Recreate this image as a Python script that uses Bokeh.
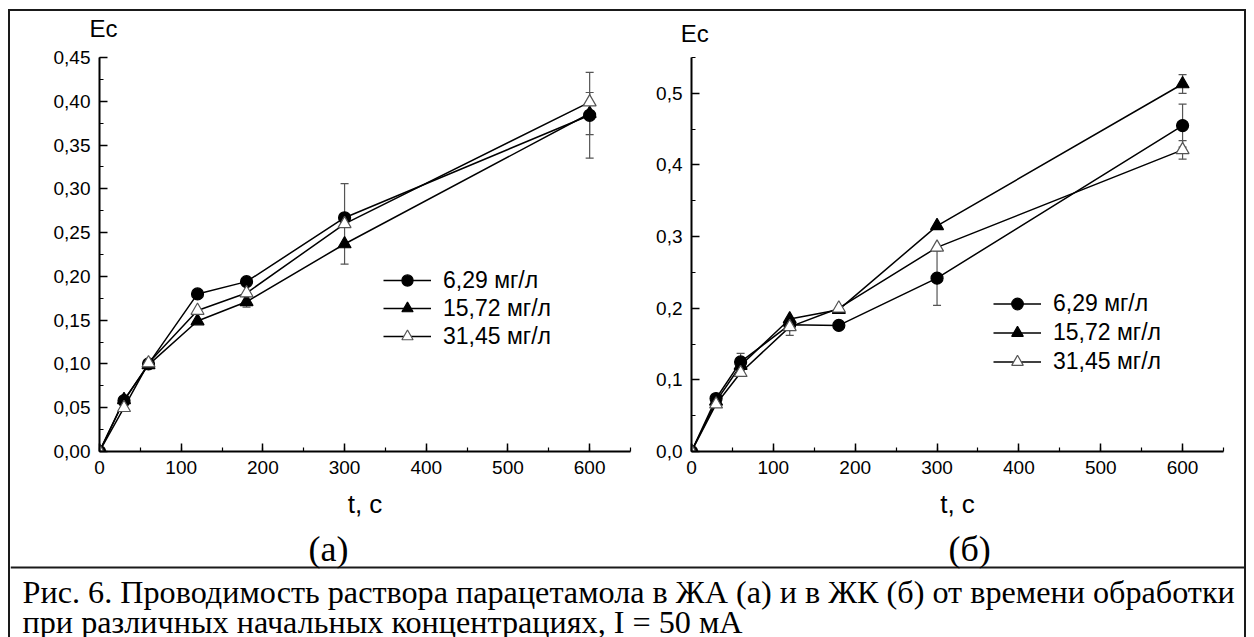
from bokeh.plotting import figure
from bokeh.models import (Range1d, SingleIntervalTicker, CustomJSTickFormatter, Legend,
                          LegendItem, Label, Whisker, ColumnDataSource, TeeHead, Span,
                          LinearAxis, FixedTicker)
from bokeh.layouts import column, row
from bokeh.embed import file_html
from bokeh.resources import INLINE

# ---------------- data ----------------
t = [0, 30, 60, 120, 180, 300, 600]
series_names = ["6,29 мг/л", "15,72 мг/л", "31,45 мг/л"]

# (а) ЖА
a_629 = [0, 0.058, 0.100, 0.180, 0.194, 0.267, 0.384]
a_1572 = [0, 0.059, 0.099, 0.149, 0.171, 0.237, 0.386]
a_3145 = [0, 0.050, 0.101, 0.161, 0.181, 0.260, 0.399]
a_629_err = [0, 0, 0, 0, 0, 0, 0.049]
a_1572_err = [0, 0, 0, 0, 0.006, 0, 0.024]
a_3145_err = [0, 0, 0, 0, 0, 0.046, 0]

# (б) ЖК
b_629 = [0, 0.074, 0.125, 0.177, 0.176, 0.242, 0.455]
b_1572 = [0, 0.070, 0.120, 0.185, 0.198, 0.315, 0.513]
b_3145 = [0, 0.066, 0.110, 0.174, 0.200, 0.285, 0.421]
b_629_err = [0, 0, 0.012, 0, 0, 0.038, 0.030]
b_1572_err = [0, 0, 0, 0, 0, 0, 0.013]
b_3145_err = [0, 0, 0, 0.012, 0, 0, 0.013]

x_max = 650
x_ticks_interval = 100
y_label = "Ec"
x_label = "t, с"
panel_labels = ["(а)", "(б)"]
caption_lines = [
    "Рис. 6. Проводимость раствора парацетамола в ЖА (а) и в ЖК (б) от времени обработки",
    "при различных начальных концентрациях, I = 50 мА",
]

SANS = "Liberation Sans"
SERIF = "Liberation Serif"
BORDER = "2px solid #1a1a1a"

marker_styles = [
    dict(marker="circle", size=12, fill_color="black", line_color="black"),
    dict(marker="triangle", size=13, fill_color="black", line_color="black"),
    dict(marker="triangle", size=13, fill_color="white", line_color="#555555"),
]


def make_chart(series, errs, ymax, yint, decimals, width, height, mb, legend_loc,
               legend_row_h, ec_x, ec_standoff, styles):
    p = figure(width=width, height=height, x_range=Range1d(0, x_max), y_range=Range1d(0, ymax),
               output_backend="svg", toolbar_location=None, title_location=None,
               min_border_left=mb[0], min_border_right=mb[1],
               min_border_top=mb[2], min_border_bottom=mb[3])
    p.styles = styles
    p.grid.visible = False
    p.outline_line_color = None
    p.background_fill_color = "white"
    p.border_fill_color = "white"

    fmt = CustomJSTickFormatter(code=f"return tick.toFixed({decimals}).replace('.', ',');")
    p.yaxis.ticker = SingleIntervalTicker(interval=yint, num_minor_ticks=2)
    p.yaxis.formatter = fmt
    p.xaxis.ticker = SingleIntervalTicker(interval=x_ticks_interval, num_minor_ticks=2)
    for ax in (p.xaxis[0], p.yaxis[0]):
        ax.axis_line_width = 2
        ax.axis_line_color = "black"
        ax.major_tick_in = 8
        ax.major_tick_out = 0
        ax.minor_tick_in = 4
        ax.minor_tick_out = 0
        ax.major_tick_line_width = 1.5
        ax.minor_tick_line_width = 1.2
        ax.major_tick_line_color = "black"
        ax.minor_tick_line_color = "black"
        ax.major_label_text_font = SANS
        ax.major_label_text_font_size = "19px"
        ax.major_label_text_color = "black"
        ax.major_label_standoff = 9
    p.xaxis.axis_label = x_label
    p.xaxis.axis_label_text_font = SANS
    p.xaxis.axis_label_text_font_size = "26px"
    p.xaxis.axis_label_text_font_style = "normal"
    p.xaxis.axis_label_text_color = "black"
    p.xaxis.axis_label_standoff = 12

    # "Ec" caption above the top end of the y axis (an unlined axis above the frame)
    ec_axis = LinearAxis(ticker=FixedTicker(ticks=[ec_x], minor_ticks=[]),
                         formatter=CustomJSTickFormatter(code=f"return '{y_label}';"),
                         axis_line_color=None, major_tick_line_color=None,
                         minor_tick_line_color=None, major_tick_in=0, major_tick_out=0,
                         minor_tick_in=0, minor_tick_out=0,
                         major_label_standoff=ec_standoff, major_label_text_font=SANS,
                         major_label_text_font_size="24px", major_label_text_color="black")
    p.add_layout(ec_axis, "above")

    items = []
    for name, ys, er, ms in zip(series_names, series, errs, marker_styles):
        src = ColumnDataSource(dict(x=t, y=ys))
        lr = p.line("x", "y", source=src, line_color="black", line_width=1.5)
        wx = [xx for xx, e in zip(t, er) if e > 0]
        wl = [yy - e for yy, e in zip(ys, er) if e > 0]
        wu = [yy + e for yy, e in zip(ys, er) if e > 0]
        if wx:
            wsrc = ColumnDataSource(dict(x=wx, lower=wl, upper=wu))
            w = Whisker(source=wsrc, base="x", lower="lower", upper="upper",
                        line_color="#555555", line_width=1.2,
                        upper_head=TeeHead(size=8, line_color="#555555", line_width=1.2),
                        lower_head=TeeHead(size=8, line_color="#555555", line_width=1.2))
            p.add_layout(w)
        sr = p.scatter("x", "y", source=src, line_width=1.2, **ms)
        items.append(LegendItem(label=name, renderers=[lr, sr]))

    legend = Legend(items=items, location=legend_loc, glyph_width=48, glyph_height=legend_row_h,
                    label_height=legend_row_h, spacing=0, padding=0, margin=0,
                    label_standoff=12, border_line_color=None, background_fill_alpha=0,
                    label_text_font=SANS, label_text_font_size="23px",
                    label_text_color="black")
    p.add_layout(legend)
    return p


pa = make_chart([a_629, a_1572, a_3145], [a_629_err, a_1572_err, a_3145_err],
                0.45, 0.05, 2, 632, 521, (89, 12, 44, 79), (284, 101), 28,
                5, 16, {"border-left": BORDER, "border-top": BORDER})
pb = make_chart([b_629, b_1572, b_3145], [b_629_err, b_1572_err, b_3145_err],
                0.55, 0.1, 1, 606, 521, (51, 23, 42, 81), (302, 75), 29,
                4, 11, {"border-top": BORDER, "border-right": BORDER})

cap = figure(width=1238, height=107, x_range=Range1d(0, 1234), y_range=Range1d(0, 107),
             output_backend="svg", toolbar_location=None, title_location=None,
             min_border_left=0, min_border_right=0, min_border_top=0, min_border_bottom=0)
cap.axis.visible = False
cap.grid.visible = False
cap.outline_line_color = None
cap.styles = {"border-left": BORDER, "border-right": BORDER}
cap.add_layout(Span(location=70, dimension="width", line_color="#1a1a1a", line_width=2))
cap.add_layout(Label(x=317, y=89, text=panel_labels[0], text_font=SERIF, text_font_size="36px",
                     text_align="center", text_baseline="middle", text_color="black"))
cap.add_layout(Label(x=956, y=89, text=panel_labels[1], text_font=SERIF, text_font_size="36px",
                     text_align="center", text_baseline="middle", text_color="black"))
cap.add_layout(Label(x=12, y=46, text=caption_lines[0], text_font=SERIF, text_font_size="32.2px",
                     text_baseline="alphabetic", text_color="black"))
cap.add_layout(Label(x=12, y=16, text=caption_lines[1], text_font=SERIF, text_font_size="32.2px",
                     text_baseline="alphabetic", text_color="black"))

layout = column(row(pa, pb), cap, margin=(9, 0, 0, 8))
open("out.html", "w").write(file_html(layout, INLINE))
